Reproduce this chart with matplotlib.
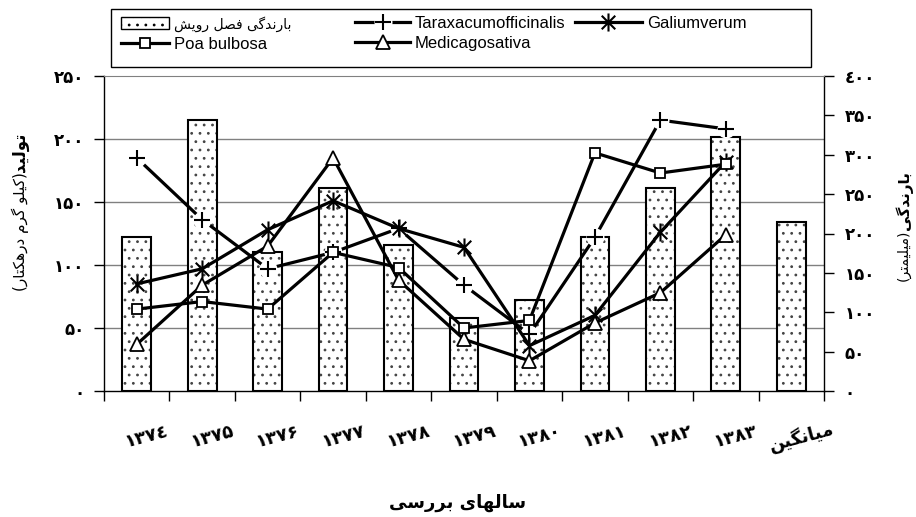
import numpy as np
import matplotlib
matplotlib.use('Agg')
import matplotlib.pyplot as plt
from matplotlib.patches import Patch, Rectangle
from matplotlib.lines import Line2D
from matplotlib.path import Path
from matplotlib.legend_handler import HandlerTuple
from matplotlib.transforms import ScaledTranslation, blended_transform_factory

# ---------------- data ----------------
years = ['۱۳۷٤', '۱۳۷۵', '۱۳۷۶', '۱۳۷۷', '۱۳۷۸', '۱۳۷۹', '۱۳۸۰', '۱۳۸۱', '۱۳۸۲', '۱۳۸۳']
mean_label = 'میانگین'
rain = [196, 344, 176, 258, 186, 93, 115, 196, 258, 323, 215]          # mm, right axis
taraxacum = [185, 136, 97, 110, 129, 84, 45, 122, 215, 208]           # kg/ha, left axis
galium = [85, 97, 128, 151, 129, 114, 36, 60, 126, 182]
poa = [65, 71, 65, 110, 98, 50, 56, 189, 173, 180]
medicago = [37, 84, 115, 185, 88, 41, 24, 54, 78, 124]
left_ticks = [0, 50, 100, 150, 200, 250]
right_ticks = [0, 50, 100, 150, 200, 250, 300, 350, 400]

legend_rain = 'بارندگی فصل رویش'
ylabel_left_bold = 'تولید'
ylabel_left_rest = '(کیلو گرم درهکتار)'
ylabel_right_bold = 'بارندگی'
ylabel_right_rest = '(میلیمتر)'
xlabel_text = 'سالهای بررسی'

# ---------------- simple Persian shaping (presentation forms + RTL) ----------------
FORMS = {
    'ا': ('\uFE8D', '\uFE8E', None, None),
    'ب': ('\uFE8F', '\uFE90', '\uFE91', '\uFE92'),
    'ت': ('\uFE95', '\uFE96', '\uFE97', '\uFE98'),
    'د': ('\uFEA9', '\uFEAA', None, None),
    'ر': ('\uFEAD', '\uFEAE', None, None),
    'س': ('\uFEB1', '\uFEB2', '\uFEB3', '\uFEB4'),
    'ش': ('\uFEB5', '\uFEB6', '\uFEB7', '\uFEB8'),
    'ص': ('\uFEB9', '\uFEBA', '\uFEBB', '\uFEBC'),
    'ف': ('\uFED1', '\uFED2', '\uFED3', '\uFED4'),
    'ک': ('\uFB8E', '\uFB8F', '\uFB90', '\uFB91'),
    'گ': ('\uFB92', '\uFB93', '\uFB94', '\uFB95'),
    'ل': ('\uFEDD', '\uFEDE', '\uFEDF', '\uFEE0'),
    'م': ('\uFEE1', '\uFEE2', '\uFEE3', '\uFEE4'),
    'ن': ('\uFEE5', '\uFEE6', '\uFEE7', '\uFEE8'),
    'ه': ('\uFEE9', '\uFEEA', '\uFEEB', '\uFEEC'),
    'و': ('\uFEED', '\uFEEE', None, None),
    'ی': ('\uFBFC', '\uFBFD', '\uFBFE', '\uFBFF'),
}


def fa(text):
    out = []
    n = len(text)
    for i, ch in enumerate(text):
        if ch not in FORMS:
            out.append(ch)
            continue
        iso, fin, ini, med = FORMS[ch]
        prev = text[i - 1] if i > 0 else ''
        nxt = text[i + 1] if i < n - 1 else ''
        pj = prev in FORMS and FORMS[prev][2] is not None
        nj = nxt in FORMS and ini is not None
        if pj and nj:
            out.append(med)
        elif pj:
            out.append(fin)
        elif nj:
            out.append(ini)
        else:
            out.append(iso)
    vis = ''.join(reversed(out))
    return vis.translate(str.maketrans('()', ')('))


def fa_num(v):
    return str(v).translate(str.maketrans('0123456789', '۰۱۲۳٤۵۶۷۸۹'))


plt.rcParams['hatch.linewidth'] = 0.8
FA = ['DejaVu Sans']
W, H = 916, 517

fig = plt.figure(figsize=(W / 100, H / 100), dpi=100)
ax1 = fig.add_axes([104 / W, 1 - 391 / H, 720 / W, 315 / H])
ax2 = ax1.twinx()
ax1.set_zorder(2)
ax1.patch.set_visible(False)
ax2.set_zorder(1)

x_all = np.arange(len(rain))
x_yr = np.arange(len(years))

# bars (rainfall, right axis)
ax2.bar(x_all, rain, width=0.44, color='white', edgecolor='#444444', linewidth=0,
        hatch='..', zorder=2)
ax2.bar(x_all, rain, width=0.44, fill=False, edgecolor='black', linewidth=1.5, zorder=3)
ax2.set_ylim(right_ticks[0], right_ticks[-1])
ax1.set_ylim(left_ticks[0], left_ticks[-1])
ax1.set_xlim(-0.5, len(rain) - 0.5)

# horizontal grid at left-axis ticks, drawn below the bars
gtr = blended_transform_factory(ax2.transAxes, ax1.transData)
for v in left_ticks[1:-1]:
    ax2.add_line(Line2D([0, 1], [v, v], transform=gtr, color='#808080', lw=1.0, zorder=1))

# lines (production, left axis)
lw = 2.3
ast = Path([(0, -1), (0, 1), (-0.75, -0.75), (0.75, 0.75), (-0.75, 0.75), (0.75, -0.75)],
           [Path.MOVETO, Path.LINETO, Path.MOVETO, Path.LINETO, Path.MOVETO, Path.LINETO])

t_line, = ax1.plot(x_yr, taraxacum, color='black', lw=lw, zorder=2)
t_bg, = ax1.plot(x_yr, taraxacum, ls='none', marker='o', ms=13, mfc='white', mec='none', zorder=2.5)
t_mk, = ax1.plot(x_yr, taraxacum, ls='none', marker='+', ms=12, mew=1.5, color='black', zorder=2.6)
g_line, = ax1.plot(x_yr, galium, color='black', lw=lw, marker=ast, ms=13, mew=1.5,
                   mfc='none', mec='black', zorder=3)
p_line, = ax1.plot(x_yr, poa, color='black', lw=lw, marker='s', ms=7.5, mew=1.3,
                   mfc='white', mec='black', zorder=4)
m_line, = ax1.plot(x_yr, medicago, color='black', lw=lw, marker='^', ms=10, mew=1.3,
                   mfc='white', mec='black', zorder=3.5)

# spines
for s in ['top', 'left', 'bottom']:
    ax2.spines[s].set_visible(False)
ax2.spines['right'].set_linewidth(1.0)
ax1.spines['right'].set_visible(False)
ax1.spines['top'].set_color('#808080')
ax1.spines['left'].set_linewidth(1.0)
ax1.spines['bottom'].set_linewidth(1.0)

# y ticks
ax1.set_yticks(left_ticks)
ax1.set_yticklabels([fa_num(v) for v in left_ticks], fontfamily=FA, fontweight='bold', fontsize=12)
ax1.tick_params(axis='y', direction='out', length=7, width=1, pad=7)
ax2.set_yticks(right_ticks)
ax2.set_yticklabels([fa_num(v) for v in right_ticks], fontfamily=FA, fontweight='bold', fontsize=12)
ax2.tick_params(axis='y', direction='out', length=7, width=1, pad=8)

# x ticks
ax1.set_xticks(x_all)
ax1.set_xticklabels(years + [fa(mean_label)], fontfamily=FA, fontweight='bold', fontsize=13,
                    rotation=15, ha='center', va='center', rotation_mode='anchor')
ax1.set_xticks(np.arange(-0.5, len(rain)), minor=True)
ax1.tick_params(axis='x', which='major', length=0, pad=33)
ax1.tick_params(axis='x', which='minor', direction='out', length=7, width=1)
off = ScaledTranslation(10 / 100, 0, fig.dpi_scale_trans)
for lab in ax1.get_xticklabels():
    lab.set_transform(lab.get_transform() + off)

# axis titles
fig.text(20 / W, 1 - 172 / H, fa(ylabel_left_bold), rotation=90, rotation_mode='anchor',
         ha='left', va='center', fontfamily=FA, fontweight='bold', fontsize=12)
fig.text(20 / W, 1 - 172 / H, fa(ylabel_left_rest), rotation=90, rotation_mode='anchor',
         ha='right', va='center', fontfamily=FA, fontsize=11)
fig.text(904 / W, 1 - 230 / H, fa(ylabel_right_bold), rotation=90, rotation_mode='anchor',
         ha='left', va='center', fontfamily=FA, fontweight='bold', fontsize=11)
fig.text(904 / W, 1 - 230 / H, fa(ylabel_right_rest), rotation=90, rotation_mode='anchor',
         ha='right', va='center', fontfamily=FA, fontsize=10)
fig.text(458 / W, 1 - 503 / H, fa(xlabel_text), ha='center', va='center',
         fontfamily=FA, fontweight='bold', fontsize=13)

# legend
bar_proxy = Patch(facecolor='white', edgecolor='black', hatch='..', linewidth=1.0)
lat = {'family': ['Liberation Sans Narrow', 'Liberation Sans', 'DejaVu Sans'], 'size': 12}
common = dict(loc='upper left', frameon=False, borderpad=0, borderaxespad=0,
              handletextpad=0.3, labelspacing=0.3, prop=lat)
leg1 = fig.legend([bar_proxy, p_line], [fa(legend_rain), 'Poa bulbosa'],
                  bbox_to_anchor=(121 / W, 1 - 16 / H), handlelength=2.9, **common)
leg1.get_texts()[0].set_fontfamily(FA)
leg1.get_texts()[0].set_fontsize(10)
leg2 = fig.legend([(t_line, t_bg, t_mk), m_line], ['Taraxacumofficinalis', 'Medicagosativa'],
                  bbox_to_anchor=(355 / W, 1 - 16 / H), handlelength=3.3,
                  handler_map={tuple: HandlerTuple(ndivide=1)}, **common)
leg3 = fig.legend([g_line], ['Galiumverum'],
                  bbox_to_anchor=(575 / W, 1 - 16 / H), handlelength=4.0, **common)
fig.add_artist(Rectangle((111 / W, 1 - 67 / H), 700 / W, 58 / H, transform=fig.transFigure,
                         fill=False, edgecolor='black', linewidth=1.0))

fig.savefig('out.png', dpi=100, facecolor='white')
